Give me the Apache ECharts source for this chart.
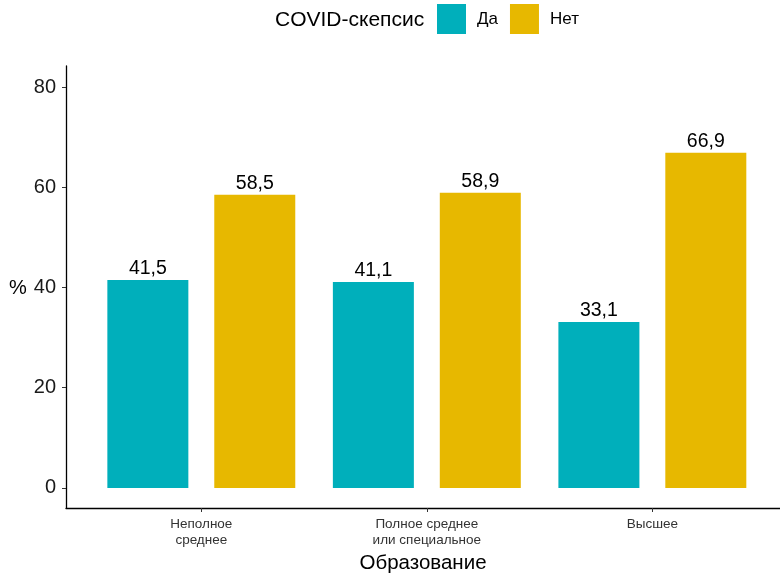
<!DOCTYPE html>
<html>
<head>
<meta charset="utf-8">
<script src="https://cdn.jsdelivr.net/npm/echarts@6/dist/echarts.min.js"></script>
<style>html,body{margin:0;padding:0;background:#fff}#c{width:780px;height:573px}</style>
</head>
<body>
<div id="c"></div>
<script>
const categories = ['Неполное\nсреднее', 'Полное среднее\nили специальное', 'Высшее'];
const seriesNames = ['Да', 'Нет'];
const valuesDa = [41.5, 41.1, 33.1];
const valuesNet = [58.5, 58.9, 66.9];
const yTicks = [0, 20, 40, 60, 80];
const catPositions = [1, 2, 3];

const font = 'Liberation Sans, Arial, sans-serif';
const chart = echarts.init(document.getElementById('c'), null, {renderer: 'canvas'});

function toPairs(vals) { return vals.map((v, i) => [catPositions[i], v]); }
function fmt(p) { return String(p.value[1].toFixed(1)).replace('.', ','); }

const labelCfg = {show: true, position: 'top', distance: 1, color: '#000', fontSize: 19.5, fontFamily: font, formatter: fmt};

chart.setOption({
  animation: false,
  textStyle: {fontFamily: font},
  grid: {left: 66, right: 0, top: 66, bottom: 65, containLabel: false, outerBoundsMode: 'none'},
  legend: {
    data: seriesNames,
    left: 437, top: 4, padding: 0,
    itemWidth: 29, itemHeight: 30, itemGap: 12,
    icon: 'rect',
    textStyle: {fontSize: 17, color: '#000', fontFamily: font, padding: [4, 0, 0, 6]}
  },
  graphic: [
    {type: 'text', left: 275, top: 10, style: {text: 'COVID-скепсис', fontSize: 21, fill: '#000', fontFamily: font}},
    {type: 'text', left: 9, top: 278, style: {text: '%', fontSize: 20, fill: '#000', fontFamily: font}}
  ],
  xAxis: {
    type: 'value',
    min: 0.4, max: 3.566,
    name: 'Образование',
    nameLocation: 'middle',
    nameGap: 44,
    nameTextStyle: {fontSize: 20.5, color: '#000', fontFamily: font},
    splitLine: {show: false},
    axisLine: {show: true, onZero: false, lineStyle: {color: '#000', width: 1.3}},
    axisTick: {show: true, length: 4, lineStyle: {color: '#333'}, customValues: catPositions},
    axisLabel: {
      customValues: catPositions,
      fontSize: 13.5, color: '#333', fontFamily: font, lineHeight: 15.5, margin: 9,
      formatter: v => categories[Math.round(v) - 1]
    }
  },
  yAxis: {
    type: 'value',
    min: -4, max: 84.2,
    splitLine: {show: false},
    axisLine: {show: true, onZero: false, lineStyle: {color: '#000', width: 1.3}},
    axisTick: {show: true, length: 4, lineStyle: {color: '#333'}, customValues: yTicks},
    axisLabel: {customValues: yTicks, fontSize: 20, color: '#1a1a1a', fontFamily: font, margin: 10}
  },
  series: [
    {name: seriesNames[0], type: 'bar', data: toPairs(valuesDa), barWidth: 81, barGap: '32%',
     itemStyle: {color: '#00AFBB'}, label: labelCfg},
    {name: seriesNames[1], type: 'bar', data: toPairs(valuesNet), barWidth: 81, barGap: '32%',
     itemStyle: {color: '#E7B800'}, label: labelCfg}
  ]
});
</script>
</body>
</html>
